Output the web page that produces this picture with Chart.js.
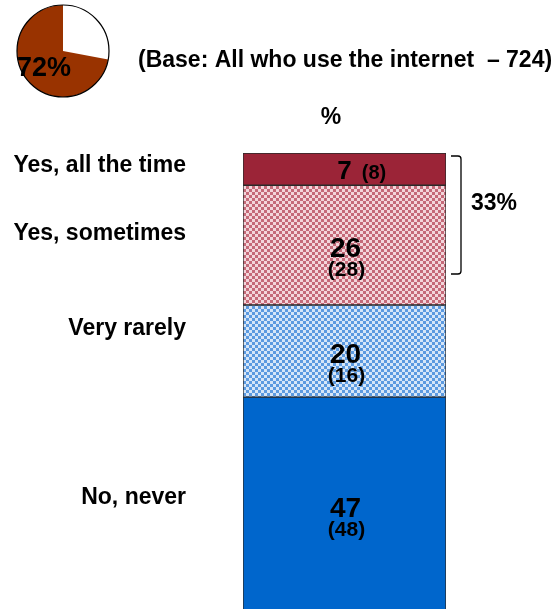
<!DOCTYPE html>
<html>
<head>
<meta charset="utf-8">
<script src="https://cdn.jsdelivr.net/npm/chart.js@4.4.0/dist/chart.umd.min.js"></script>
<style>
  html, body { margin: 0; padding: 0; background: #fff; overflow: hidden; }
  #wrap { position: relative; width: 560px; height: 609px; }
  canvas { position: absolute; left: 0; top: 0; }
</style>
</head>
<body>
<div id="wrap">
  <canvas id="barChart" width="560" height="609"></canvas>
  <canvas id="pieChart" width="126" height="102"></canvas>
</div>
<script>
// answers, bottom of the bar first
const categories = ['No, never', 'Very rarely', 'Yes, sometimes', 'Yes, all the time'];
const current = [47, 20, 26, 7];
const previous = [48, 16, 28, 8];
const bracketLabel = '33%';

const pieLabels = ['Do not use the internet', 'Use the internet'];
const pieValues = [28, 72];

const baseText = '(Base: All who use the internet  \u2013 724)';

const FONT = '"Liberation Sans", Arial, sans-serif';

// small checker patterns for the two middle bands
const makePattern = (light, dark) => {
    const c = document.createElement('canvas');
    c.width = 6; c.height = 6;
    const g = c.getContext('2d');
    g.fillStyle = light;
    g.fillRect(0, 0, 6, 6);
    g.fillStyle = dark;
    g.fillRect(0, 0, 3, 3);
    g.fillRect(3, 3, 3, 3);
    return g.createPattern(c, 'repeat');
};

const ctx = document.getElementById('barChart').getContext('2d');
const fills = [
    '#0066cc',
    makePattern('#d6e6f8', '#5c9ae0'),
    makePattern('#f3d6db', '#c56a79'),
    '#9b2437'
];

// labels, numbers, bracket and header
const textPlugin = {
    id: 'texts',
    afterDatasetsDraw(chart) {
        const c = chart.ctx;
        c.save();
        c.fillStyle = '#000';

        c.font = 'bold 23px ' + FONT;
        c.textAlign = 'left';
        c.textBaseline = 'alphabetic';
        c.fillText(baseText, 138, 67);

        c.textAlign = 'center';
        c.fillText('%', 331, 124);

        // category labels on the left
        const labelY = [504, 335, 240, 172];
        c.textAlign = 'right';
        categories.forEach((cat, i) => c.fillText(cat, 186, labelY[i]));

        // values inside the bar
        chart.data.datasets.forEach((ds, i) => {
            const bar = chart.getDatasetMeta(i).data[0];
            const mid = (bar.y + bar.base) / 2;
            const big = String(current[i]);
            const small = '(' + previous[i] + ')';
            if (Math.abs(bar.base - bar.y) < 50) {
                c.textAlign = 'center';
                c.font = 'bold 26px ' + FONT;
                c.fillText(big, bar.x, mid + 10);
                const w = c.measureText(big).width;
                c.textAlign = 'left';
                c.font = 'bold 20px ' + FONT;
                c.fillText(small, bar.x + w / 2 + 10, mid + 10);
            } else {
                c.textAlign = 'center';
                c.font = 'bold 28px ' + FONT;
                c.fillText(big, bar.x + 1, mid + 12);
                c.font = 'bold 21px ' + FONT;
                c.fillText(small, bar.x + 2, mid + 31);
            }
        });

        // bracket over the two "yes" bands
        c.strokeStyle = '#000';
        c.lineWidth = 1.3;
        c.beginPath();
        c.moveTo(451, 156);
        c.lineTo(458, 156);
        c.quadraticCurveTo(461, 156, 461, 159);
        c.lineTo(461, 271);
        c.quadraticCurveTo(461, 274, 458, 274);
        c.lineTo(451, 274);
        c.stroke();

        c.textAlign = 'left';
        c.font = 'bold 23px ' + FONT;
        c.fillText(bracketLabel, 471, 210);
        c.restore();
    }
};

new Chart(ctx, {
    type: 'bar',
    data: {
        labels: ['%'],
        datasets: categories.map((cat, i) => ({
            label: cat,
            data: [current[i]],
            backgroundColor: fills[i],
            borderColor: '#2a2a2a',
            borderWidth: 1,
            borderSkipped: false,
            barPercentage: 1,
            categoryPercentage: 1
        }))
    },
    options: {
        responsive: false,
        animation: false,
        layout: { padding: { left: 243, right: 114, top: 153, bottom: 0 } },
        scales: {
            x: { display: false, stacked: true },
            y: { display: false, stacked: true, min: 1, max: 100 }
        },
        plugins: {
            legend: { display: false },
            tooltip: { enabled: false }
        }
    },
    plugins: [textPlugin]
});

// pie in the top left corner
const pieOutline = {
    id: 'pieOutline',
    afterDatasetsDraw(chart) {
        const arc = chart.getDatasetMeta(0).data[0];
        const c = chart.ctx;
        c.save();
        c.strokeStyle = '#000';
        c.lineWidth = 1.2;
        c.beginPath();
        c.arc(arc.x, arc.y, arc.outerRadius, 0, Math.PI * 2);
        c.stroke();
        c.fillStyle = '#000';
        c.font = 'bold 27px ' + FONT;
        c.textAlign = 'left';
        c.fillText(pieValues[1] + '%', 17, 76);
        c.restore();
    }
};

new Chart(document.getElementById('pieChart').getContext('2d'), {
    type: 'pie',
    data: {
        labels: pieLabels,
        datasets: [{
            data: pieValues,
            backgroundColor: ['#ffffff', '#993300'],
            borderWidth: 0
        }]
    },
    options: {
        responsive: false,
        animation: false,
        layout: { padding: 5 },
        plugins: {
            legend: { display: false },
            tooltip: { enabled: false }
        }
    },
    plugins: [pieOutline]
});
</script>
</body>
</html>
